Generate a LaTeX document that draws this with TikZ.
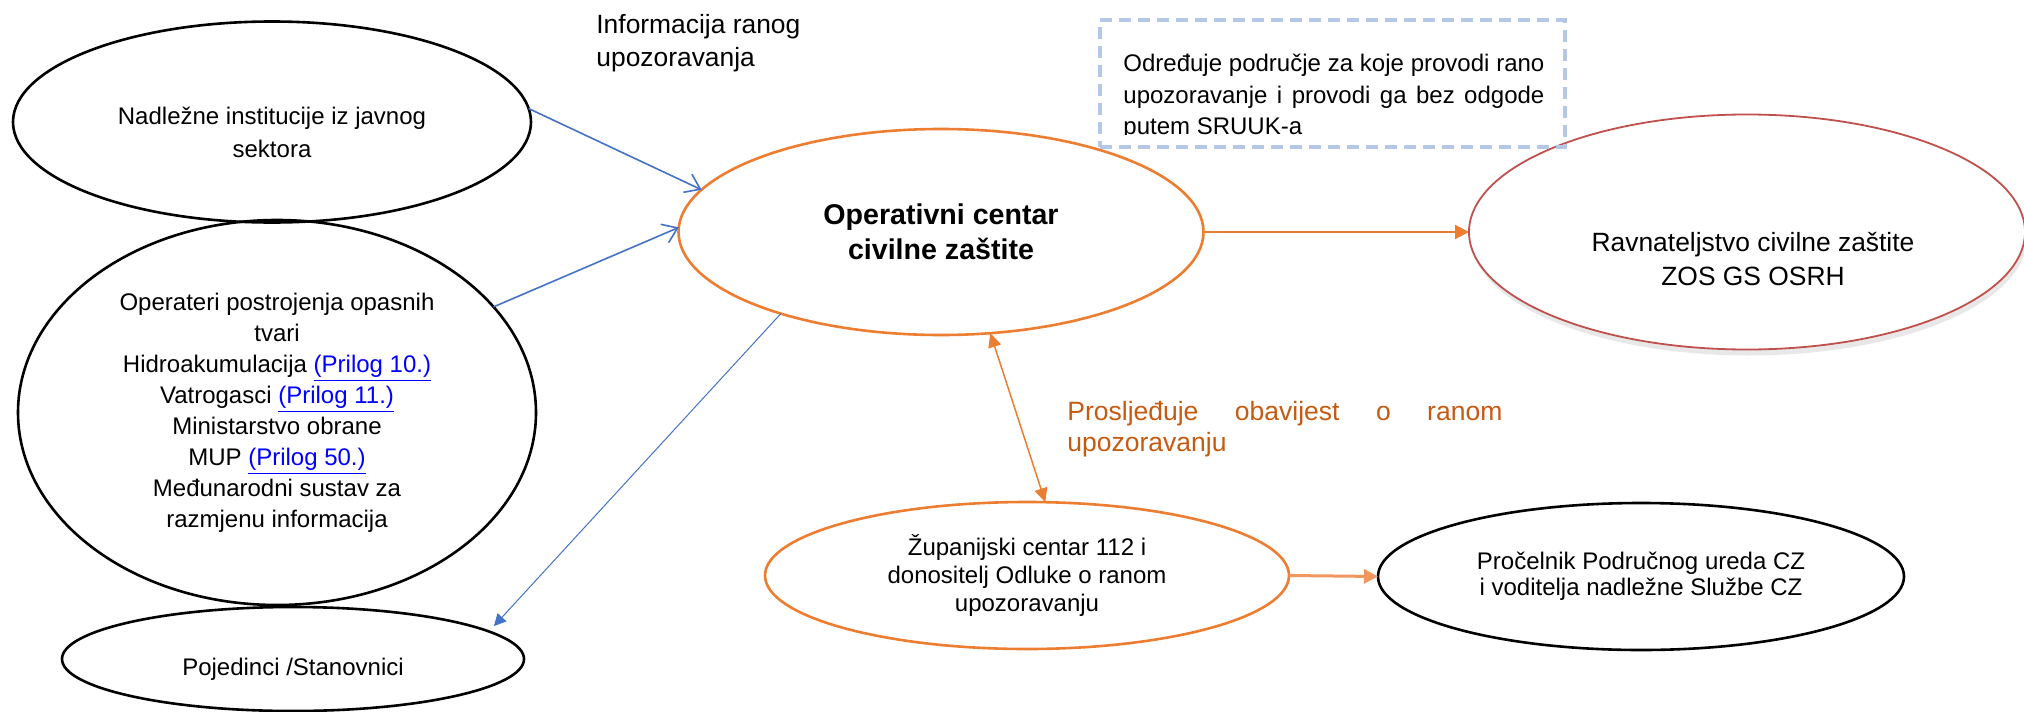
\documentclass[tikz,border=0pt]{standalone}
\usepackage{fontspec}
\setmainfont{Liberation Sans}
\usetikzlibrary{shapes.geometric,arrows.meta,shadows}
\hyphenpenalty=10000
\tolerance=10000
\definecolor{cOrange}{RGB}{237,125,49}
\definecolor{cOrangeL}{RGB}{241,150,92}
\definecolor{cTextOr}{RGB}{197,90,17}
\definecolor{cBlue}{RGB}{68,114,196}
\definecolor{cRed}{RGB}{192,80,77}
\definecolor{cDash}{RGB}{180,199,231}
\definecolor{cLink}{RGB}{0,0,255}
\newcommand\lnk[1]{\textcolor{cLink}{\underline{#1}}}
\begin{document}
\begin{tikzpicture}[x=0.5pt,y=-0.5pt,
  ell/.style={ellipse, inner sep=0pt, outer sep=0pt, align=center, font=\fontsize{12pt}{15.5pt}\selectfont},
  blk/.style={ell, draw=black, line width=1.3pt},
  org/.style={ell, draw=cOrange, line width=1.3pt},
  txt/.style={inner sep=0pt, align=center, font=\fontsize{12pt}{15.5pt}\selectfont},
  barrow/.style={draw=cBlue, line width=0.8pt, -{Straight Barb[length=7pt,width=10pt]}},
  bthin/.style={draw=cBlue, line width=0.5pt, -{Triangle[length=6pt,width=6pt]}},
  oarrow/.style={draw=cOrange, line width=1pt, -{Triangle[length=7pt,width=7pt]}},
  odouble/.style={draw=cOrange, line width=0.75pt, {Triangle[length=7pt,width=6.5pt]}-{Triangle[length=7pt,width=6.5pt]}},
  othick/.style={draw=cOrangeL, line width=1.5pt, -{Triangle[length=7pt,width=7pt]}}
]
\useasboundingbox (0,0) rectangle (2024,712);

% left ellipses
\node[blk, minimum width=259pt, minimum height=100.5pt] (nad) at (272,122) {};
\node[txt, font=\fontsize{12pt}{16.5pt}\selectfont] (nadt) at (272,132) {Nadležne institucije iz javnog\\sektora};

\node[blk, minimum width=259pt, minimum height=192.5pt] (opr) at (277,412.5)
  {Operateri postrojenja opasnih\\tvari\\Hidroakumulacija \lnk{(Prilog 10.)}\\Vatrogasci \lnk{(Prilog 11.)}\\Ministarstvo obrane\\MUP \lnk{(Prilog 50.)}\\Međunarodni sustav za\\razmjenu informacija};

\node[blk, minimum width=231pt, minimum height=52pt] (poj) at (293,659) {};
\node[txt] (pojt) at (293,669) {Pojedinci /Stanovnici};

% centre
\node[org, minimum width=262.5pt, minimum height=103pt, font=\bfseries\fontsize{14.3pt}{17.5pt}\selectfont] (op) at (941,232) {Operativni centar\\civilne zaštite};

% right
\node[ell, draw=cRed, line width=0.9pt, fill=white, drop shadow={shadow xshift=1pt, shadow yshift=-3pt, opacity=0.18}, minimum width=278pt, minimum height=117.5pt] (rav) at (1747,232) {};
\node[txt, font=\fontsize{13.2pt}{17pt}\selectfont] (ravt) at (1753,259) {Ravnateljstvo civilne zaštite\\ZOS GS OSRH};

\node[org, minimum width=262pt, minimum height=73.5pt, font=\fontsize{12pt}{14pt}\selectfont] (zup) at (1027,575.5) {Županijski centar 112 i\\donositelj Odluke o ranom\\upozoravanju};

\node[blk, minimum width=263pt, minimum height=73.5pt, font=\fontsize{12pt}{13pt}\selectfont] (pro) at (1641,576.5) {Pročelnik Područnog ureda CZ\\i voditelja nadležne Službe CZ};

% dashed box
\node[draw=cDash, line width=2pt, dash pattern=on 6pt off 3.5pt, minimum width=232.5pt, minimum height=63.5pt, inner sep=0pt] (box) at (1332.5,83.5) {};
\begin{scope}
\clip (1100,20) rectangle (1565,134.5);
\node[anchor=north west, inner sep=0pt, text width=210.5pt, align=justify, font=\fontsize{12pt}{15.75pt}\selectfont] (boxt) at (1123,54) {Određuje područje za koje provodi rano upozoravanje i provodi ga bez odgode putem SRUUK-a};
\end{scope}

% free labels
\node[anchor=north west, inner sep=0pt, align=left, font=\fontsize{13.2pt}{16.5pt}\selectfont] (info) at (596,14) {Informacija ranog\\upozoravanja};
\node[anchor=north west, inner sep=0pt, text width=217.5pt, align=justify, text=cTextOr, font=\fontsize{13.25pt}{15.5pt}\selectfont] (pros) at (1067,401) {Prosljeđuje obavijest o ranom upozoravanju};

% connectors
\draw[barrow] (nad.3) -- (op.170);
\draw[barrow] (opr.26) -- (op.179);
\draw[bthin] (op.207) -- ([xshift=6pt,yshift=1.5pt]poj.9);
\draw[oarrow] (op.east) -- (rav.west);
\draw[odouble] (op.-64) -- (zup.76);
\draw[othick] (zup.east) -- (pro.west);
\end{tikzpicture}
\end{document}
